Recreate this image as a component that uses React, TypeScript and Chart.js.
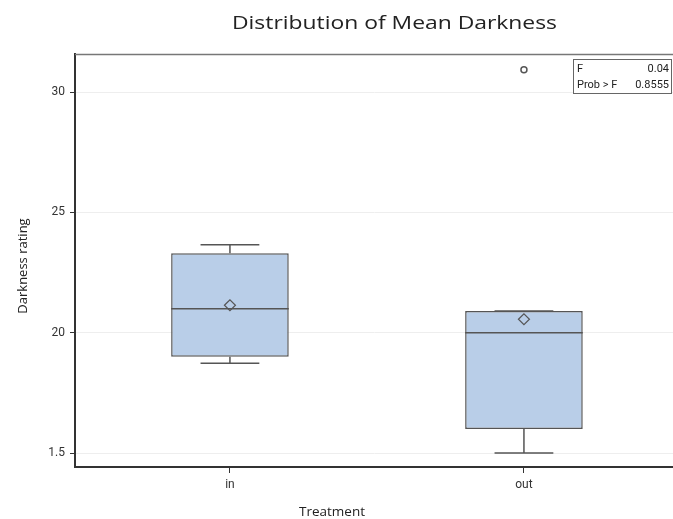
import React, { useEffect, useRef } from "react";
import { Chart, registerables } from "chart.js";

Chart.register(...registerables);

// ---- data ----
const categories = ["in", "out"];
const whiskerLow = [18.73, 15.0];
const q1 = [19.0, 16.0];
const median = [21.0, 20.0];
const q3 = [23.3, 20.9];
const whiskerHigh = [23.65, 20.9];
const means = [21.14, 20.56];
const outliers: number[][] = [[], [30.93]];
const yTicks = [15, 20, 25, 30];
const yTickLabels = ["1.5", "20", "25", "30"];
const statLabels = ["F", "Prob > F"];
const statValues = ["0.04", "0.8555"];
const chartTitle = "Distribution of Mean Darkness";
const xTitle = "Treatment";
const yTitle = "Darkness rating";

// ---- geometry in data units ----
const BOX_HALF = 0.2;
const CAP_HALF = 0.1;

const LINE = "#555555";
const BOX_FILL = "#b9cee8";

function segmentData() {
  const pts: any[] = [];
  const seg = (x1: number, y1: number, x2: number, y2: number) => {
    pts.push({ x: x1, y: y1 }, { x: x2, y: y2 }, { x: x2, y: null });
  };
  categories.forEach((_, i) => {
    seg(i, q3[i], i, whiskerHigh[i]);
    seg(i - CAP_HALF, whiskerHigh[i], i + CAP_HALF, whiskerHigh[i]);
    seg(i, q1[i], i, whiskerLow[i]);
    seg(i - CAP_HALF, whiskerLow[i], i + CAP_HALF, whiskerLow[i]);
    seg(i - BOX_HALF, median[i], i + BOX_HALF, median[i]);
  });
  return pts;
}

function stretchedText(ctx: any, text: string, cx: number, y: number, targetW: number) {
  const w = ctx.measureText(text).width;
  const sx = targetW / w;
  ctx.save();
  ctx.translate(cx, y);
  ctx.scale(sx, 1);
  ctx.textAlign = "center";
  ctx.fillText(text, 0, 0);
  ctx.restore();
}

const decorPlugin = {
  id: "decor",
  afterDraw(chart: any) {
    const ctx = chart.ctx;
    const ca = chart.chartArea;
    ctx.save();
    // top frame line
    ctx.strokeStyle = "#777777";
    ctx.lineWidth = 1.5;
    ctx.beginPath();
    ctx.moveTo(ca.left, ca.top + 0.5);
    ctx.lineTo(ca.right, ca.top + 0.5);
    ctx.stroke();

    // title
    ctx.fillStyle = "#222222";
    ctx.font = "19px 'Open Sans'";
    ctx.textBaseline = "alphabetic";
    stretchedText(ctx, chartTitle, 394.5, 29, 325);

    // x title
    ctx.textAlign = "center";
    ctx.font = "13.5px 'Open Sans'";
    ctx.fillText(xTitle, 332, 516);

    // y title
    ctx.save();
    ctx.translate(27, 266);
    ctx.rotate(-Math.PI / 2);
    ctx.font = "13px 'Open Sans'";
    ctx.textAlign = "center";
    ctx.fillText(yTitle, 0, 0);
    ctx.restore();

    // stats inset
    const bx = 573.5, by = 59.5, bw = 98, bh = 34;
    ctx.fillStyle = "#ffffff";
    ctx.fillRect(bx, by, bw, bh);
    ctx.strokeStyle = "#666666";
    ctx.lineWidth = 1;
    ctx.strokeRect(bx, by, bw, bh);
    ctx.fillStyle = "#222222";
    ctx.font = "11px Roboto";
    statLabels.forEach((lab, i) => {
      const yb = 72 + i * 16;
      ctx.textAlign = "left";
      ctx.fillText(lab, 577, yb);
      ctx.textAlign = "right";
      ctx.fillText(statValues[i], 669, yb);
    });
    ctx.restore();
  },
};

export default function App() {
  const ref = useRef<HTMLCanvasElement | null>(null);
  useEffect(() => {
    document.body.style.margin = "0";
    const canvas = ref.current;
    if (!canvas) return;
    const chart = new Chart(canvas, {
      type: "bar",
      data: {
        datasets: [
          {
            type: "bar",
            label: "box",
            data: categories.map((_, i) => ({ x: i, y: [q1[i], q3[i]] })) as any,
            backgroundColor: BOX_FILL,
            borderColor: LINE,
            borderWidth: 1.5,
            borderSkipped: false,
            barPercentage: BOX_HALF * 2,
            categoryPercentage: 1,
            grouped: false,
            order: 5,
          } as any,
          {
            type: "line",
            label: "whiskers",
            data: segmentData(),
            borderColor: LINE,
            borderWidth: 1.5,
            pointRadius: 0,
            fill: false,
            spanGaps: false,
            order: 2,
          } as any,
          {
            type: "scatter",
            label: "mean",
            data: categories.map((_, i) => ({ x: i, y: means[i] })),
            pointStyle: "rectRot",
            pointRadius: 5.5,
            borderColor: LINE,
            borderWidth: 1.2,
            backgroundColor: "rgba(0,0,0,0)",
            order: 1,
          } as any,
          {
            type: "scatter",
            label: "outliers",
            data: outliers.flatMap((arr, i) => arr.map((v) => ({ x: i, y: v }))),
            pointStyle: "circle",
            pointRadius: 3,
            borderColor: LINE,
            borderWidth: 1.5,
            backgroundColor: "#ffffff",
            order: 1,
          } as any,
        ],
      },
      options: {
        responsive: false,
        animation: false,
        layout: { autoPadding: false, padding: { top: 54, left: 0, right: 0, bottom: 0 } },
        plugins: {
          legend: { display: false },
          tooltip: { enabled: false },
          title: { display: false },
        },
        scales: {
          x: {
            type: "linear",
            offset: false,
            min: -0.527,
            max: 1.507,
            afterBuildTicks: (s: any) => {
              s.ticks = categories.map((_, i) => ({ value: i }));
            },
            afterFit: (s: any) => {
              s.height = 52;
              s.paddingLeft = 0;
              s.paddingRight = 0;
            },
            ticks: {
              autoSkip: false,
              callback: (v: any) => categories[Math.round(Number(v))] ?? "",
              color: "#333333",
              font: { family: "Roboto", size: 12 },
              padding: 5,
              maxRotation: 0,
            },
            grid: {
              offset: false,
              drawOnChartArea: false,
              tickLength: 6,
              tickColor: "#333333",
              lineWidth: 1,
            },
            border: { color: "#333333", width: 2 },
          } as any,
          y: {
            type: "linear",
            min: 14.42,
            max: 31.58,
            afterBuildTicks: (s: any) => {
              s.ticks = yTicks.map((v) => ({ value: v }));
            },
            afterFit: (s: any) => {
              s.width = 75;
              s.paddingTop = 0;
              s.paddingBottom = 0;
            },
            ticks: {
              autoSkip: false,
              callback: (_v: any, i: number) => yTickLabels[i],
              color: "#333333",
              font: { family: "Roboto", size: 12 },
              padding: 5,
            },
            grid: {
              color: "#eeeeee",
              tickColor: "#333333",
              tickLength: 5,
              lineWidth: 1,
            },
            border: { color: "#333333", width: 2 },
          } as any,
        },
      },
      plugins: [decorPlugin],
    });
    return () => chart.destroy();
  }, []);
  return (
    <div style={{ width: 673, height: 519 }}>
      <canvas ref={ref} width={673} height={519} />
    </div>
  );
}
